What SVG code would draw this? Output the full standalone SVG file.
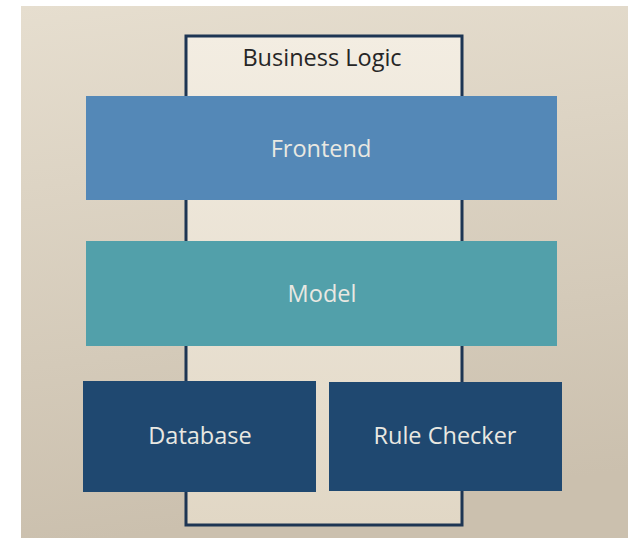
<svg xmlns="http://www.w3.org/2000/svg" width="636" height="538" viewBox="0 0 636 538">
  <defs>
    <linearGradient id="bg" x1="0" y1="0" x2="0.15" y2="1">
      <stop offset="0" stop-color="#e6decf"/>
      <stop offset="1" stop-color="#cbc0ae"/>
    </linearGradient>
    <linearGradient id="inner" x1="0" y1="0" x2="0" y2="1">
      <stop offset="0" stop-color="#f3ede2"/>
      <stop offset="1" stop-color="#e1d7c5"/>
    </linearGradient>
  </defs>
  <style>
    .lbl { font-family: "Open Sans", "Noto Sans", "Liberation Sans", sans-serif; font-size: 23.5px; text-anchor: middle; fill: #e9e8e2; }
    .title { fill: #262626; }
    .frame { fill: url(#inner); stroke: #1d3553; stroke-width: 3; }
  </style>
  <rect x="0" y="0" width="636" height="538" fill="#ffffff"/>
  <rect x="21" y="6" width="607" height="532" fill="url(#bg)"/>

  <g id="business-logic">
    <rect class="frame" x="186" y="36" width="276" height="489"/>
    <text class="lbl title" x="322" y="66">Business Logic</text>
  </g>

  <g id="connectors"></g>

  <g id="frontend">
    <rect x="86" y="96" width="471" height="104" fill="#5488b7"/>
    <text class="lbl" x="321" y="157">Frontend</text>
  </g>

  <g id="model">
    <rect x="86" y="241" width="471" height="105" fill="#52a0aa"/>
    <text class="lbl" x="322" y="302">Model</text>
  </g>

  <g id="database">
    <rect x="83" y="381" width="233" height="111" fill="#1f4870"/>
    <text class="lbl" x="200" y="444">Database</text>
  </g>

  <g id="rule-checker">
    <rect x="329" y="382" width="233" height="109" fill="#1f4870"/>
    <text class="lbl" x="445" y="444">Rule Checker</text>
  </g>
</svg>
